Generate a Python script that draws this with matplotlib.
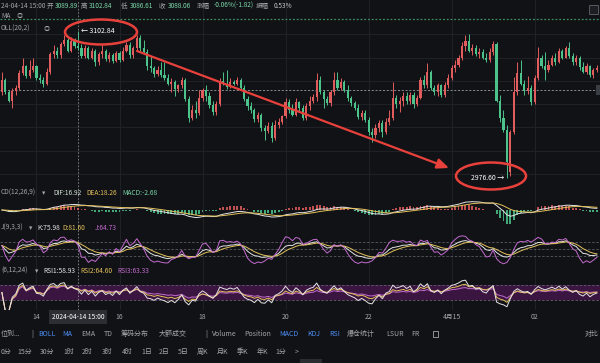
"""Recreate a dark 5-minute candlestick screenshot with MACD / KDJ / RSI panels."""

import matplotlib

matplotlib.use("Agg")

import matplotlib.pyplot as plt
import matplotlib.transforms as mtransforms
import numpy as np
import pandas as pd
from matplotlib.patches import Ellipse, Rectangle

plt.rcParams["font.family"] = ["Noto Sans CJK SC", "DejaVu Sans"]

# ---- data (5-minute candles, 13:10 on 04-14 -> 03:30 on 04-15) ----
opens = [
    3050, 3061, 3050, 3043, 3051, 3054, 3067, 3073, 3064, 3069,
    3073, 3062, 3061, 3057, 3068, 3083, 3086, 3082, 3092, 3095,
    3086, 3094, 3089.89, 3088, 3081, 3088, 3080, 3086, 3076, 3083,
    3086, 3079, 3082, 3077, 3084, 3078, 3086, 3091, 3082, 3088,
    3097, 3088, 3085, 3073, 3071, 3066, 3069, 3065, 3062, 3057,
    3059, 3053, 3056, 3061, 3044, 3028, 3035, 3032, 3045, 3052,
    3047, 3039, 3033, 3040, 3060, 3057, 3055, 3059, 3057, 3061,
    3054, 3044, 3038, 3035, 3027, 3031, 3019, 3017, 3021, 3011,
    3022, 3025, 3030, 3042, 3035, 3031, 3042, 3037, 3028, 3038,
    3043, 3046, 3061, 3050, 3044, 3041, 3050, 3061, 3054, 3059,
    3052, 3045, 3041, 3037, 3029, 3032, 3026, 3016, 3013, 3019,
    3024, 3016, 3025, 3028, 3045, 3040, 3043, 3047, 3043, 3048,
    3040, 3045, 3061, 3056, 3068, 3054, 3050, 3056, 3048, 3056,
    3062, 3071, 3074, 3080, 3090, 3094, 3086, 3088, 3083, 3085,
    3080, 3078, 3085, 3092, 3043, 3028, 3018, 2982, 3016, 3050,
    3067, 3057, 3051, 3054, 3042, 3062, 3080, 3073, 3069, 3074,
    3080, 3076, 3086, 3080, 3088, 3081, 3076, 3080, 3072, 3068,
    3073, 3065, 3069,
]
highs = [
    3068, 3062, 3052, 3054, 3056, 3069, 3080, 3074, 3078, 3080,
    3074, 3066, 3063, 3071, 3085, 3091, 3089, 3093, 3099, 3097,
    3098, 3097, 3102.84, 3092, 3091, 3090, 3088, 3087, 3085, 3091,
    3087, 3085, 3084, 3086, 3086, 3089, 3093, 3093, 3090, 3099,
    3099, 3095, 3087, 3081, 3073, 3073, 3076, 3076, 3066, 3062,
    3061, 3057, 3063, 3062, 3047, 3039, 3043, 3052, 3054, 3056,
    3050, 3043, 3043, 3062, 3068, 3069, 3062, 3061, 3063, 3062,
    3056, 3047, 3042, 3037, 3033, 3032, 3022, 3025, 3025, 3026,
    3028, 3031, 3045, 3044, 3040, 3045, 3043, 3039, 3041, 3047,
    3049, 3067, 3064, 3052, 3047, 3052, 3068, 3068, 3062, 3061,
    3056, 3047, 3043, 3040, 3035, 3035, 3029, 3019, 3023, 3026,
    3026, 3028, 3035, 3059, 3048, 3046, 3050, 3050, 3050, 3050,
    3048, 3063, 3065, 3075, 3069, 3056, 3058, 3057, 3059, 3066,
    3074, 3078, 3082, 3093, 3099, 3100, 3092, 3091, 3088, 3087,
    3084, 3088, 3094, 3093, 3048, 3035, 3022, 3018, 3063, 3076,
    3078, 3061, 3064, 3056, 3065, 3089, 3082, 3085, 3078, 3082,
    3084, 3088, 3087, 3090, 3093, 3084, 3082, 3081, 3076, 3075,
    3074, 3071, 3074,
]
lows = [
    3048, 3049, 3042, 3037, 3048, 3052, 3065, 3062, 3062, 3068,
    3061, 3058, 3055, 3056, 3066, 3080, 3080, 3080, 3090, 3085,
    3085, 3088, 3086.61, 3080, 3080, 3079, 3079, 3073, 3074, 3080,
    3077, 3076, 3075, 3076, 3076, 3077, 3085, 3080, 3080, 3086,
    3086, 3083, 3069, 3068, 3063, 3064, 3063, 3061, 3056, 3050,
    3047, 3050, 3054, 3043, 3025, 3026, 3028, 3031, 3043, 3043,
    3037, 3031, 3031, 3038, 3056, 3053, 3054, 3056, 3056, 3052,
    3043, 3035, 3032, 3025, 3025, 3017, 3009, 3015, 3007, 3009,
    3019, 3023, 3028, 3032, 3030, 3030, 3033, 3026, 3026, 3035,
    3041, 3043, 3049, 3037, 3039, 3038, 3048, 3052, 3052, 3050,
    3043, 3038, 3035, 3027, 3026, 3025, 3013, 3007, 3011, 3016,
    3012, 3014, 3022, 3026, 3037, 3033, 3038, 3040, 3040, 3037,
    3038, 3044, 3054, 3054, 3052, 3048, 3047, 3046, 3046, 3054,
    3061, 3068, 3072, 3078, 3086, 3085, 3082, 3081, 3080, 3079,
    3076, 3076, 3082, 3042, 3025, 3016, 2976.60, 2978, 3014, 3048,
    3056, 3048, 3049, 3039, 3040, 3061, 3071, 3061, 3068, 3073,
    3074, 3075, 3079, 3080, 3080, 3074, 3074, 3069, 3067, 3066,
    3063, 3062, 3068,
]
closes = [
    3061, 3050, 3043, 3051, 3054, 3067, 3073, 3064, 3069, 3073,
    3062, 3061, 3057, 3068, 3083, 3086, 3082, 3092, 3095, 3086,
    3094, 3090, 3088.06, 3081, 3088, 3080, 3086, 3076, 3083, 3086,
    3079, 3082, 3077, 3084, 3078, 3086, 3091, 3082, 3088, 3097,
    3088, 3085, 3073, 3071, 3066, 3069, 3065, 3062, 3057, 3059,
    3053, 3056, 3061, 3044, 3028, 3035, 3032, 3045, 3052, 3047,
    3039, 3033, 3040, 3060, 3057, 3055, 3059, 3057, 3061, 3054,
    3044, 3038, 3035, 3027, 3031, 3019, 3017, 3021, 3011, 3022,
    3025, 3030, 3042, 3035, 3031, 3042, 3037, 3028, 3038, 3043,
    3046, 3061, 3050, 3044, 3041, 3050, 3061, 3054, 3059, 3052,
    3045, 3041, 3037, 3029, 3032, 3026, 3016, 3013, 3019, 3024,
    3016, 3025, 3028, 3045, 3040, 3043, 3047, 3043, 3048, 3040,
    3045, 3061, 3056, 3068, 3054, 3050, 3056, 3048, 3056, 3062,
    3071, 3074, 3080, 3090, 3094, 3086, 3088, 3083, 3085, 3080,
    3078, 3085, 3092, 3043, 3028, 3018, 2990, 3016, 3050, 3067,
    3057, 3051, 3054, 3042, 3062, 3080, 3073, 3069, 3074, 3080,
    3076, 3086, 3080, 3088, 3081, 3076, 3080, 3072, 3068, 3073,
    3065, 3069, 3071,
]

tick_idx = [10, 34, 58, 82, 106, 130, 154]
tick_labels = ["14", "16", "18", "20", "22", "4月15", "02"]
cross_idx = 22
cross_time = "2024-04-14 15:00"
cross_price = 3052.1
ma_level = 3113.2
price_grid = [3100, 3080, 3060, 3040, 3020, 3000, 2980]
low_idx = 146

# texts as far as they are visible in the screenshot (left edge is cropped)
info_items = [
    ("24-04-14 15:00", "label"), ("开", "label"), ("3089.89", "value"),
    ("高", "label"), ("3102.84", "value"), ("低", "label"), ("3086.61", "value"),
    ("收", "label"), ("3088.06", "value"), ("涨幅", "label"),
    ("-0.06%(-1.82)", "value"), ("振幅", "label"), ("0.53%", "plain"),
]
info_x = [1, 47, 55, 81, 89, 121, 130, 159, 168, 197, 214, 256, 274]
macd_label = ["CD(12,26,9)", "▾", "DIF:16.92", "DEA:18.26", "MACD:-2.68"]
kdj_label = ["J(9,3,3)", "▾", "K:75.98", "D:81.60", "J:64.73"]
rsi_label = ["(6,12,24)", "▾", "RSI1:58.93", "RSI2:64.60", "RSI3:63.33"]

toolbar1 = ["位到...", "|", "BOLL", "MA", "EMA", "TD", "筹码分布", "大额成交", "|",
            "Volume", "Position", "MACD", "KDJ", "RSI", "爆仓统计", "LSUR", "FR", "对比"]
toolbar1_x = [1, 31, 38, 62, 81, 104, 121, 159, 205, 212, 244, 279, 307, 329, 347, 386, 411, 585]
toolbar1_on = {"BOLL", "MA", "MACD", "KDJ", "RSI"}
toolbar2 = ["0分", "15分", "30分", "1时", "2时", "3时", "4时", "1日", "2日", "5日",
            "周K", "月K", "季K", "年K", "1分", ">"]
toolbar2_x = [1, 17, 40, 63, 82, 102, 122, 141, 159, 178, 197, 217, 237, 257, 275, 295]

# ---- colours ----
BG = "#111216"
GRID = "#202228"
UP = "#e15c5c"
DOWN = "#4cc38a"
MARK = "#e8413b"
GREY = "#a3a5aa"
WHITE = "#e4e4e4"
YELLOW = "#e2c15a"
MAGENTA = "#c46bd0"
BLUE = "#4d8ff7"
VALUE = "#7ad6a8"

# ---- indicators (standard definitions) ----
c = pd.Series(closes, dtype=float)
dif = c.ewm(span=12, adjust=False).mean() - c.ewm(span=26, adjust=False).mean()
dea = dif.ewm(span=9, adjust=False).mean()
hist = 2 * (dif - dea)

low9 = pd.Series(lows, dtype=float).rolling(9, min_periods=1).min()
high9 = pd.Series(highs, dtype=float).rolling(9, min_periods=1).max()
rsv = ((c - low9) / (high9 - low9) * 100).fillna(50)
k_line = rsv.ewm(alpha=1 / 3, adjust=False).mean()
d_line = k_line.ewm(alpha=1 / 3, adjust=False).mean()
j_line = 3 * k_line - 2 * d_line

delta = c.diff().fillna(0)


def rsi(n):
    up = delta.clip(lower=0).ewm(alpha=1 / n, adjust=False).mean()
    tot = delta.abs().ewm(alpha=1 / n, adjust=False).mean()
    return (100 * up / tot.replace(0, np.nan)).fillna(50)


rsi1, rsi2, rsi3 = rsi(6), rsi(12), rsi(24)

# ---- figure ----
W, H = 600, 363
fig = plt.figure(figsize=(W / 100, H / 100), dpi=100, facecolor=BG)
idx = np.arange(len(closes))
XLIM = (-0.55, 172.9)


def panel(y0, y1, ylim):
    ax = fig.add_axes([0, 1 - y1 / H, 1, (y1 - y0) / H])
    ax.set_facecolor("none")
    ax.set_xlim(*XLIM)
    ax.set_ylim(*ylim)
    ax.axis("off")
    for t in tick_idx:
        ax.axvline(t, color=GRID, lw=0.7, zorder=0)
    ax.axvline(cross_idx, color="#8a8c90", lw=0.6, ls=(0, (2, 2)), zorder=1)
    return ax


ax = panel(0, 190, (2966.1, 3129.5))
ax_m = panel(190, 226, (-24, 30))
ax_k = panel(226, 268, (-31.4, 148.6))
ax_r = panel(268, 310, (3.3, 115.3))

# main: grid, candles, level lines
for p in price_grid:
    ax.axhline(p, color=GRID, lw=0.7, zorder=0)
ax.axhline(ma_level, color="#3f8f5f", lw=0.9, ls=(0, (1.5, 1.5)), zorder=1)
ax.axhline(cross_price, color="#9a9ca1", lw=0.6, ls=(0, (2.5, 2)), zorder=1)

o = np.array(opens, dtype=float)
cl = np.array(closes, dtype=float)
colors = np.where(cl >= o, UP, DOWN)
ax.vlines(idx, lows, highs, colors=colors, lw=0.7, zorder=2)
body_h = np.maximum(np.abs(cl - o), 0.5)
ax.bar(idx, body_h, bottom=np.minimum(o, cl), width=0.62, color=colors, lw=0, zorder=3)

ax.text(cross_idx + 0.9, highs[cross_idx], f"← {highs[cross_idx]:.2f}", color="white",
        fontsize=5, va="center", ha="left", zorder=5)
ax.text(low_idx - 0.8, lows[low_idx], f"{lows[low_idx]:.2f} →", color="white",
        fontsize=5, va="center", ha="right", zorder=5)

# MACD
ax_m.bar(idx, hist, width=0.55, color=np.where(hist >= 0, UP, DOWN), lw=0, alpha=0.85)
ax_m.plot(idx, dif, color=WHITE, lw=0.7)
ax_m.plot(idx, dea, color=YELLOW, lw=0.7)

# KDJ
for lvl in (80, 50, 20):
    ax_k.axhline(lvl, color="#5a5c62", lw=0.6, ls=(0, (3, 2)))
ax_k.plot(idx, k_line, color=WHITE, lw=0.7)
ax_k.plot(idx, d_line, color=YELLOW, lw=0.7)
ax_k.plot(idx, j_line, color=MAGENTA, lw=0.7)

# RSI
ax_r.axhspan(30, 70, color="#3a1540", lw=0, zorder=0)
for lvl in (70, 30):
    ax_r.axhline(lvl, color="#6a5c70", lw=0.6, ls=(0, (3, 2)))
ax_r.plot(idx, rsi3, color=MAGENTA, lw=0.7)
ax_r.plot(idx, rsi2, color=YELLOW, lw=0.7)
ax_r.plot(idx, rsi1, color=WHITE, lw=0.7)

# ---- overlay in pixel coordinates for texts and hand-drawn marks ----
ov = fig.add_axes([0, 0, 1, 1])
ov.set_xlim(0, W)
ov.set_ylim(H, 0)
ov.axis("off")
ov.set_facecolor("none")
ov.set_zorder(10)

# time axis labels, positioned on the candle index scale
blend = mtransforms.blended_transform_factory(ax_r.transData, ov.transData)
for t, lab in zip(tick_idx, tick_labels):
    ov.text(t, 317, lab, transform=blend, color=GREY, fontsize=4.9, ha="center", va="center")
ov.text(cross_idx, 317, cross_time, transform=blend, color="white", fontsize=4.8,
        ha="center", va="center",
        bbox=dict(boxstyle="square,pad=0.4", fc="#2c2e34", ec="none"))

# top info line
for (txt, kind), x in zip(info_items, info_x):
    col = {"label": GREY, "value": VALUE, "plain": "#c8c8c8"}[kind]
    ov.text(x, 6, txt, color=col, fontsize=4.7, ha="left", va="center")
ov.text(1, 16, "MA", color=GREY, fontsize=4.8, ha="left", va="center")
ov.text(17, 16, "◎", color=GREY, fontsize=4.5, ha="left", va="center")
ov.text(1, 29, "OLL(20,2)", color=GREY, fontsize=4.8, ha="left", va="center")
ov.text(44, 29, "◎", color=GREY, fontsize=4.5, ha="left", va="center")

# panel headers
for y, parts, xs in [
    (193, macd_label, [1, 42, 53, 86, 122]),
    (228, kdj_label, [1, 29, 37, 62, 95]),
    (271, rsi_label, [1, 35, 43, 80, 117]),
]:
    cols = [GREY, GREY, "#cfe3d3" if parts is macd_label else WHITE, YELLOW,
            VALUE if parts is macd_label else MAGENTA]
    for txt, x, col in zip(parts, xs, cols):
        ov.text(x, y, txt, color=col, fontsize=4.8, ha="left", va="center")

# crosshair price tag and top-right icon
ov.add_patch(Rectangle((596, 85), 6, 10, fc="#3a3d44", ec="none"))
ov.add_patch(Rectangle((589, 5), 9, 9, fc="#1c1e23", ec="#55585f", lw=0.7))

# red hand annotations
ov.add_patch(Ellipse((101, 32), 72, 25, fill=False, ec=MARK, lw=1.8))
ov.add_patch(Ellipse((491, 176), 70, 27, fill=False, ec=MARK, lw=1.8))
ov.annotate("", xy=(449, 168), xytext=(137, 51),
            arrowprops=dict(arrowstyle="-|>,head_length=0.7,head_width=0.3",
                            color=MARK, lw=1.6, shrinkA=0, shrinkB=0))

# toolbars
for txt, x in zip(toolbar1, toolbar1_x):
    col = BLUE if txt in toolbar1_on else GREY
    ov.text(x, 334, txt, color=col, fontsize=5.0, ha="left", va="center")
ov.add_patch(Rectangle((433, 331), 5, 6, fill=False, ec=GREY, lw=0.6))
for txt, x in zip(toolbar2, toolbar2_x):
    ov.text(x, 352, txt, color=GREY, fontsize=5.0, ha="left", va="center")
ov.add_patch(Rectangle((300, 359), 22, 5, fc="#2a2c31", ec="none"))

fig.savefig("out.png", dpi=100, facecolor=BG)
plt.close(fig)
